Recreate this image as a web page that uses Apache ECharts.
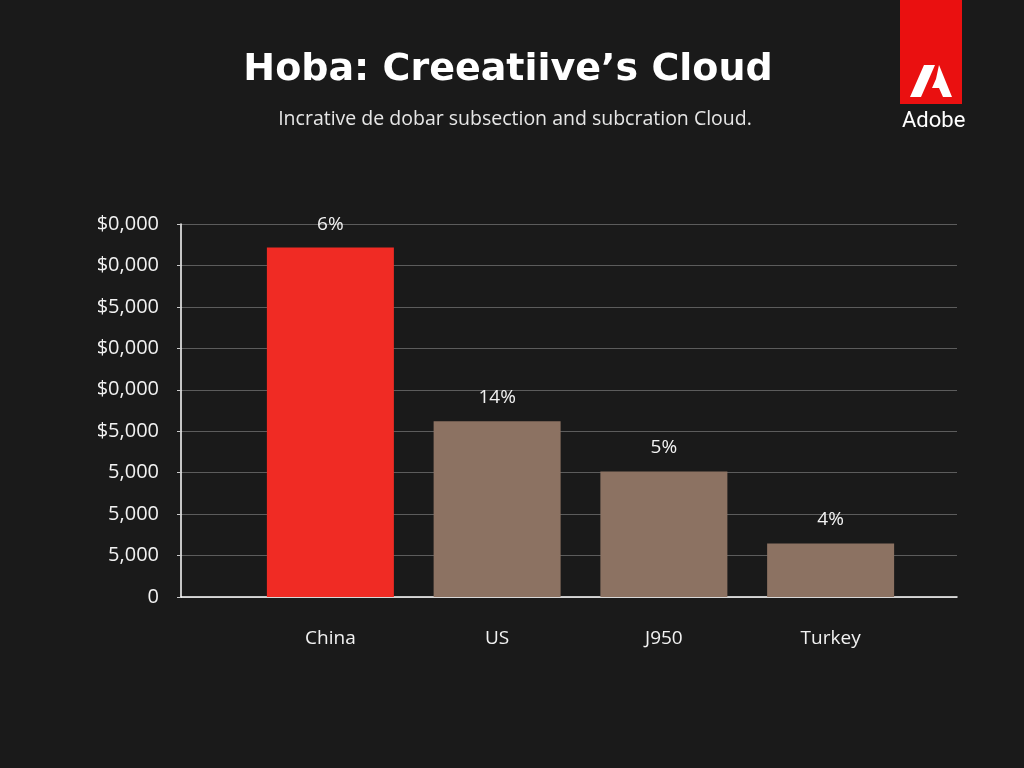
<!DOCTYPE html>
<html>
<head>
<meta charset="utf-8">
<script src="https://cdn.jsdelivr.net/npm/echarts@6/dist/echarts.min.js"></script>
<style>
  html, body { margin: 0; padding: 0; background: #1a1a1a; }
  #chart { width: 1024px; height: 768px; }
</style>
</head>
<body>
<div id="chart"></div>
<script>
// data
const categories = ['China', 'US', 'J950', 'Turkey'];
const values = [8.43, 4.24, 3.03, 1.29];
const barLabels = ['6%', '14%', '5%', '4%'];
const barColors = ['#f02b24', '#8c7262', '#8c7262', '#8c7262'];
// tick labels bottom -> top
const yTickLabels = ['0', '5,000', '5,000', '5,000', '$5,000', '$0,000', '$0,000', '$5,000', '$0,000', '$0,000'];

const chart = echarts.init(document.getElementById('chart'), null, { renderer: 'canvas' });

const font = '"Open Sans", "Noto Sans", sans-serif';

const option = {
  backgroundColor: '#1a1a1a',
  animation: false,
  title: [
    {
      text: 'Hoba: Creeatiive’s Cloud',
      left: 503,
      top: 46,
      textAlign: 'center',
      textStyle: { color: '#ffffff', fontSize: 38, fontWeight: 'bold', fontFamily: '"DejaVu Sans", sans-serif' }
    },
    {
      text: 'Incrative de dobar subsection and subcration Cloud.',
      left: 510,
      top: 104,
      textAlign: 'center',
      textStyle: { color: '#e6e6e6', fontSize: 19.5, fontWeight: 'normal', fontFamily: font }
    }
  ],
  grid: [
    { left: 181, right: 67, top: 224, bottom: 171 },  // gridlines + y labels
    { left: 247, right: 110, top: 224, bottom: 171 }  // bars
  ],
  xAxis: [
    {
      type: 'value',
      gridIndex: 0,
      min: 0,
      max: 1,
      axisLine: { show: true, lineStyle: { color: '#ffffff', width: 1.5 } },
      axisTick: { show: false },
      axisLabel: { show: false },
      splitLine: { show: false }
    },
    {
      type: 'category',
      gridIndex: 1,
      data: categories,
      axisLine: { show: false },
      axisTick: { show: false },
      axisLabel: { color: '#f2f2f2', fontSize: 19, margin: 32, fontFamily: font }
    }
  ],
  yAxis: [
    {
      type: 'value',
      gridIndex: 0,
      min: 0,
      max: 9,
      interval: 1,
      axisLine: { show: true, lineStyle: { color: '#ffffff', width: 1.5 } },
      axisTick: { show: true, length: 4, lineStyle: { color: '#cccccc' } },
      axisLabel: {
        color: '#f2f2f2',
        fontSize: 20,
        margin: 22,
        fontFamily: font,
        formatter: (v) => yTickLabels[Math.round(v)] ?? ''
      },
      splitLine: { lineStyle: { color: '#5c5c5c', width: 1.2 } }
    },
    {
      type: 'value',
      gridIndex: 1,
      min: 0,
      max: 9,
      show: false
    }
  ],
  series: [
    {
      type: 'bar',
      xAxisIndex: 1,
      yAxisIndex: 1,
      barWidth: 127,
      data: values.map((v, i) => ({ value: v, itemStyle: { color: barColors[i] } })),
      label: {
        show: true,
        position: 'top',
        distance: 14,
        color: '#f2f2f2',
        fontSize: 19,
        fontFamily: font,
        formatter: (p) => barLabels[p.dataIndex]
      }
    }
  ],
  graphic: [
    // Adobe logo block
    { type: 'rect', shape: { x: 900, y: 0, width: 62, height: 104 }, style: { fill: '#ea1010' } },
    {
      type: 'polygon',
      shape: { points: [[924, 65], [935, 65], [921, 97], [910, 97]] },
      style: { fill: '#ffffff' }
    },
    {
      type: 'polygon',
      shape: { points: [[939, 65], [952, 97], [943, 97], [939, 88], [932, 88], [936, 79]] },
      style: { fill: '#ffffff' }
    },
    {
      type: 'text',
      left: 902,
      top: 110,
      style: {
        text: 'Adobe',
        fill: '#ffffff',
        fontSize: 22,
        fontFamily: 'Roboto, sans-serif'
      }
    }
  ]
};

chart.setOption(option);
window.addEventListener('resize', () => chart.resize());
</script>
</body>
</html>
